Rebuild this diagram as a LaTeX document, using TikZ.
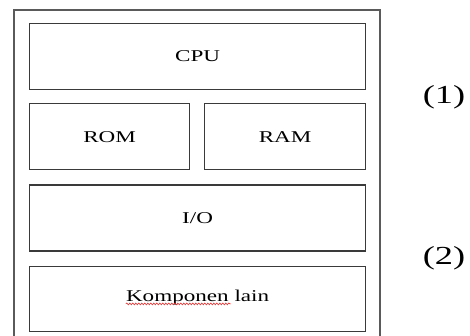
\documentclass[tikz,border=0pt]{standalone}
\usepackage{fontspec}
\setmainfont[FakeStretch=1.4]{Liberation Serif}
\usepackage{xcolor}
\usetikzlibrary{positioning,decorations.pathmorphing}
\definecolor{FrameGray}{HTML}{5A5A5A}
\definecolor{BoxGray}{HTML}{3A3A3A}
\definecolor{SpellRed}{HTML}{E03030}
\tikzset{
    % Plain sharp-cornered blocks
    block/.style={
        rectangle,
        draw=BoxGray,
        line width=1.2pt,
        fill=white,
        minimum height=66pt,
        inner sep=0pt,
        font=\fontsize{16.5}{18}\selectfont
    },
    block wide/.style={
        block,
        minimum width=336pt
    },
    block half/.style={
        block,
        minimum width=160pt
    },
    tag/.style={
        font=\fontsize{26}{30}\selectfont,
        inner sep=0pt
    }
}
\begin{document}
\begin{tikzpicture}[x=1pt, y=-1pt]
    \useasboundingbox (0,0) rectangle (470,335);

    % Outer frame (bottom edge runs off the page)
    \draw[FrameGray, line width=1.8pt] (14,336) -- (14,10) -- (380,10) -- (380,336);

    % Blocks
    \node[block wide, anchor=north west] (cpu) at (29,23) {CPU};
    \node[block half, below right=13pt and 0pt of cpu.south west] (rom) {ROM};
    \node[block half, below left=13pt and 0pt of cpu.south east, minimum width=161pt] (ram) {RAM};
    \node[block wide, below right=14pt and 0pt of rom.south west] (io) {I/O};
    \node[block wide, below right=14pt and 0pt of io.south west, minimum height=65pt] (other) {};
    \node[font=\fontsize{16.5}{18}\selectfont, inner sep=0pt] (othertext) at ([yshift=1pt]other.center) {Komponen lain};

    % Spell-check squiggle under the first word
    \coordinate (sq1) at ([yshift=1.5pt]othertext.south west);
    \coordinate (sq2) at ([xshift=105pt]sq1);
    \draw[SpellRed, line width=0.6pt, decorate,
          decoration={snake, amplitude=0.9pt, segment length=3pt}] (sq1) -- (sq2);

    % Side labels
    \node[tag] (one) at (444,97) {(1)};
    \node[tag] (two) at (444,258) {(2)};
\end{tikzpicture}
\end{document}
